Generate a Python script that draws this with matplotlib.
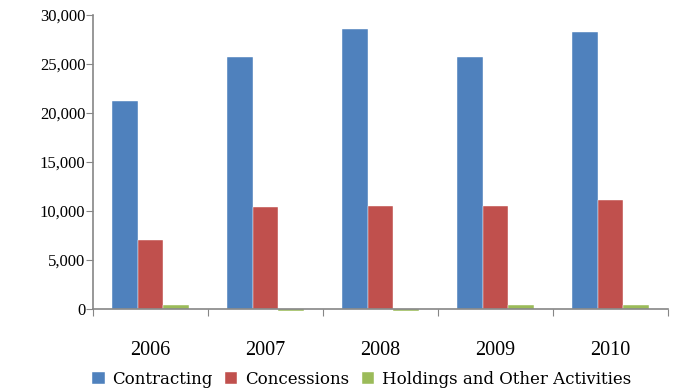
import matplotlib.pyplot as plt
import numpy as np

years = ["2006", "2007", "2008", "2009", "2010"]
contracting = [21200, 25700, 28600, 25700, 28300]
concessions = [7000, 10400, 10500, 10500, 11100]
holdings = [450, -250, -250, 450, 450]

series = [
    ("Contracting", contracting, "#4F81BD"),
    ("Concessions", concessions, "#C0504D"),
    ("Holdings and Other Activities", holdings, "#9BBB59"),
]

plt.rcParams['font.family'] = ['Liberation Serif', 'DejaVu Serif']
plt.rcParams['font.size'] = 12

fig = plt.figure(figsize=(6.75, 3.91), dpi=100)
ax = fig.add_axes([93 / 675, 1 - 309 / 391, (668 - 93) / 675, (309 - 15) / 391])

x = np.arange(len(years))
width = 0.222
for k, (name, vals, color) in enumerate(series):
    ax.bar(x + (k - 1) * width, vals, width, color=color, label=name,
           edgecolor="white", linewidth=0.3, clip_on=False, zorder=2)

ax.set_xlim(-0.5, len(years) - 0.5)
ax.set_ylim(0, 30000)
ax.set_yticks(np.arange(0, 30001, 5000))
ax.yaxis.set_major_formatter(plt.FuncFormatter(lambda v, p: f"{int(v):,}"))

# category boundaries carry the tick marks, labels sit at the centres
ax.set_xticks(np.arange(-0.5, len(years), 1.0))
ax.set_xticklabels([])
ax.set_xticks(x, minor=True)
ax.set_xticklabels(years, minor=True, fontsize=14.5)
ax.tick_params(axis="x", which="major", length=5, color="#868686", direction="out")
ax.tick_params(axis="x", which="minor", length=0, pad=23)
ax.tick_params(axis="y", length=5, color="#868686", direction="out", pad=0.5)

for side in ["top", "right"]:
    ax.spines[side].set_visible(False)
for side in ["left", "bottom"]:
    ax.spines[side].set_color("#868686")
    ax.spines[side].set_linewidth(1.2)

fig.legend(loc="lower left", bbox_to_anchor=(82 / 675, -0.018), ncol=3, frameon=False,
           prop={"family": "DejaVu Serif", "size": 12},
           handlelength=0.75, handleheight=0.75, handletextpad=0.45, columnspacing=0.75,
           borderaxespad=0.2)

plt.savefig("out.png", dpi=100)
